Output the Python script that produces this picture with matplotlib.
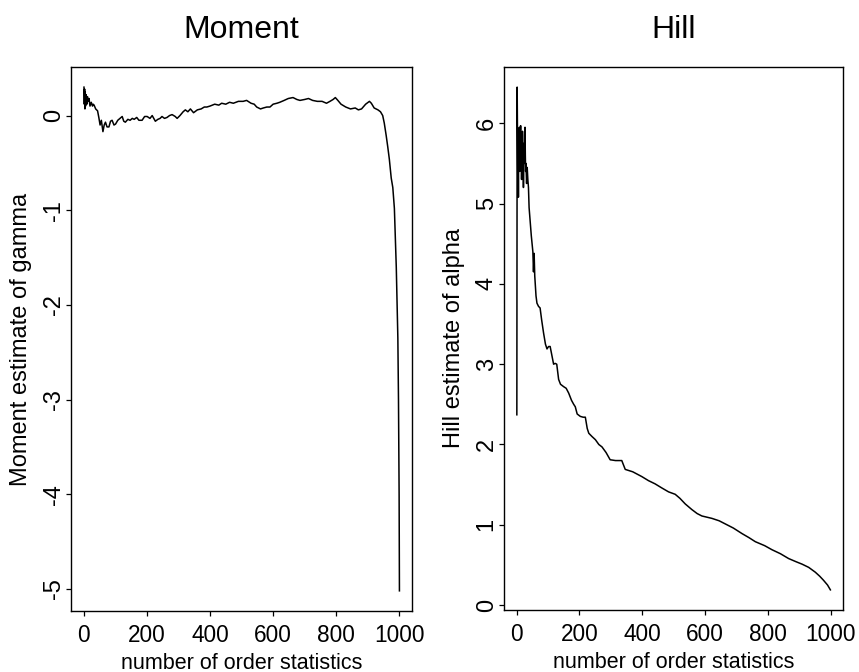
#!/usr/bin/env python
# -*- coding: utf-8 -*-
import numpy as np
import matplotlib
matplotlib.use('Agg')
import matplotlib.pyplot as plt

plt.rc('font', family='Liberation Sans')
plt.rc('axes', unicode_minus=False)

##################
## Data
##################
# Moment estimate of gamma vs number of order statistics
k_mom = [1, 2, 3, 4, 5, 6, 8, 10, 12, 14, 17, 20, 24, 28, 30, 33, 38, 44, 48, 52,
         56, 61, 65, 69, 74, 80, 85, 90, 96, 101, 108, 115, 122, 127, 132, 140, 147,
         154, 160, 168, 175, 185, 193, 201, 210, 217, 227, 235, 242, 248, 256, 264,
         272, 280, 290, 296, 305, 315, 322, 330, 338, 348, 360, 372, 382, 390, 400,
         415, 428, 437, 450, 462, 474, 490, 505, 516, 530, 540, 548, 560, 569, 580,
         590, 600, 612, 621, 635, 648, 663, 675, 685, 700, 712, 725, 740, 755, 769,
         780, 790, 797, 805, 815, 830, 845, 860, 870, 880, 893, 905, 911, 920, 932,
         940, 947, 952, 958, 963, 968, 974, 979, 984, 987, 990, 992, 995, 997, 999,
         1000]
g_mom = [0.30, 0.12, 0.28, 0.07, 0.25, 0.10, 0.22, 0.12, 0.20, 0.15, 0.18, 0.10,
         0.14, 0.10, 0.12, 0.11, 0.07, 0.05, -0.02, -0.10, -0.05, -0.17, -0.10,
         -0.07, -0.12, -0.12, -0.06, -0.05, -0.10, -0.09, -0.05, -0.03, -0.01,
         -0.06, -0.07, -0.04, -0.05, -0.03, -0.04, -0.02, -0.05, -0.05, -0.01,
         -0.01, -0.03, 0.00, -0.06, -0.04, -0.03, -0.01, -0.03, -0.02, 0.00, 0.01,
         -0.01, -0.03, 0.00, 0.04, 0.06, 0.04, 0.07, 0.03, 0.06, 0.07, 0.09, 0.09,
         0.10, 0.12, 0.11, 0.13, 0.12, 0.14, 0.13, 0.15, 0.15, 0.16, 0.13, 0.12,
         0.09, 0.07, 0.08, 0.09, 0.09, 0.12, 0.13, 0.14, 0.16, 0.18, 0.19, 0.17,
         0.16, 0.17, 0.18, 0.16, 0.15, 0.15, 0.13, 0.15, 0.17, 0.19, 0.16, 0.12,
         0.09, 0.07, 0.08, 0.06, 0.07, 0.12, 0.15, 0.13, 0.08, 0.06, 0.04, 0.00,
         -0.08, -0.21, -0.33, -0.46, -0.66, -0.76, -0.98, -1.30, -1.60, -1.90,
         -2.35, -3.00, -4.00, -5.02]

# Hill estimate of alpha vs number of order statistics
k_hill = [1, 2, 3, 4, 5, 6, 7, 8, 9, 10, 11, 12, 13, 14, 15, 16, 17, 18, 19, 20,
          21, 22, 23, 24, 25, 26, 27, 28, 29, 30, 32, 34, 36, 38, 40, 43, 47, 52,
          54, 56, 58, 62, 65, 70, 75, 80, 86, 92, 97, 102, 107, 113, 118, 123, 128,
          134, 140, 150, 158, 166, 175, 182, 187, 193, 203, 212, 219, 225, 230, 240,
          251, 262, 272, 285, 298, 315, 335, 346, 370, 399, 420, 441, 462, 484, 505,
          520, 537, 558, 575, 590, 622, 645, 665, 690, 718, 740, 760, 790, 813, 840,
          866, 890, 909, 930, 951, 965, 977, 990, 999]
a_hill = [2.37, 6.45, 5.90, 5.30, 5.70, 5.08, 5.90, 5.50, 5.95, 5.40, 5.85, 5.60,
          5.97, 5.45, 5.80, 5.30, 5.70, 5.55, 5.90, 5.40, 5.75, 5.20, 5.60, 5.70,
          5.50, 5.85, 5.95, 5.60, 5.40, 5.50, 5.25, 5.45, 5.30, 5.20, 4.95, 4.80,
          4.60, 4.40, 4.15, 4.38, 4.10, 3.85, 3.76, 3.72, 3.70, 3.55, 3.39, 3.25,
          3.19, 3.22, 3.22, 3.10, 3.00, 3.01, 3.00, 2.81, 2.75, 2.72, 2.70, 2.64,
          2.55, 2.50, 2.47, 2.38, 2.35, 2.34, 2.34, 2.20, 2.14, 2.10, 2.06, 2.00,
          1.97, 1.90, 1.81, 1.80, 1.80, 1.69, 1.66, 1.60, 1.55, 1.51, 1.46, 1.41,
          1.38, 1.33, 1.26, 1.19, 1.14, 1.11, 1.08, 1.05, 1.01, 0.96, 0.89, 0.84,
          0.79, 0.74, 0.69, 0.64, 0.58, 0.54, 0.51, 0.47, 0.41, 0.36, 0.31, 0.25,
          0.19]

xticks = [0, 200, 400, 600, 800, 1000]
yticks_mom = [0, -1, -2, -3, -4, -5]
yticks_hill = [0, 1, 2, 3, 4, 5, 6]


def rlim(v):
    # R-style 4% axis expansion
    lo, hi = min(v), max(v)
    d = 0.04*(hi-lo)
    return lo-d, hi+d


def style(ax, yticks):
    ax.set_xticks(xticks)
    ax.set_yticks(yticks)
    ax.tick_params(axis='both', direction='out', length=3.5, width=0.9)
    ax.tick_params(axis='x', pad=6, labelsize=16.3)
    ax.tick_params(axis='y', pad=1, labelsize=17, labelrotation=90)
    for lab in ax.get_yticklabels():
        lab.set_va('center')
    for s in ax.spines.values():
        s.set_linewidth(1.0)


##################
## Make plots
##################
fig = plt.figure(figsize=(8.59, 6.72), dpi=100)

ax1 = fig.add_axes([0.0827, 0.0908, 0.397, 0.8095])
ax1.plot(k_mom, g_mom, color='black', linewidth=1.1)
ax1.set_xlim(rlim(k_mom + [0]))
ax1.set_ylim(rlim(g_mom))
style(ax1, yticks_mom)
ax1.set_xlabel('number of order statistics', fontsize=15.5, labelpad=4)
ax1.set_ylabel('Moment estimate of gamma', fontsize=17, labelpad=8)
ax1.set_title('Moment', fontsize=23, pad=21)

ax2 = fig.add_axes([0.5867, 0.0923, 0.3946, 0.8080])
ax2.plot(k_hill, a_hill, color='black', linewidth=1.1)
ax2.set_xlim(rlim(k_hill + [0]))
ax2.set_ylim(rlim(a_hill))
style(ax2, yticks_hill)
ax2.set_xlabel('number of order statistics', fontsize=15.5, labelpad=4)
ax2.set_ylabel('Hill estimate of alpha', fontsize=17, labelpad=8)
ax2.set_title('Hill', fontsize=23, pad=21)

plt.savefig('out.png', dpi=100)
